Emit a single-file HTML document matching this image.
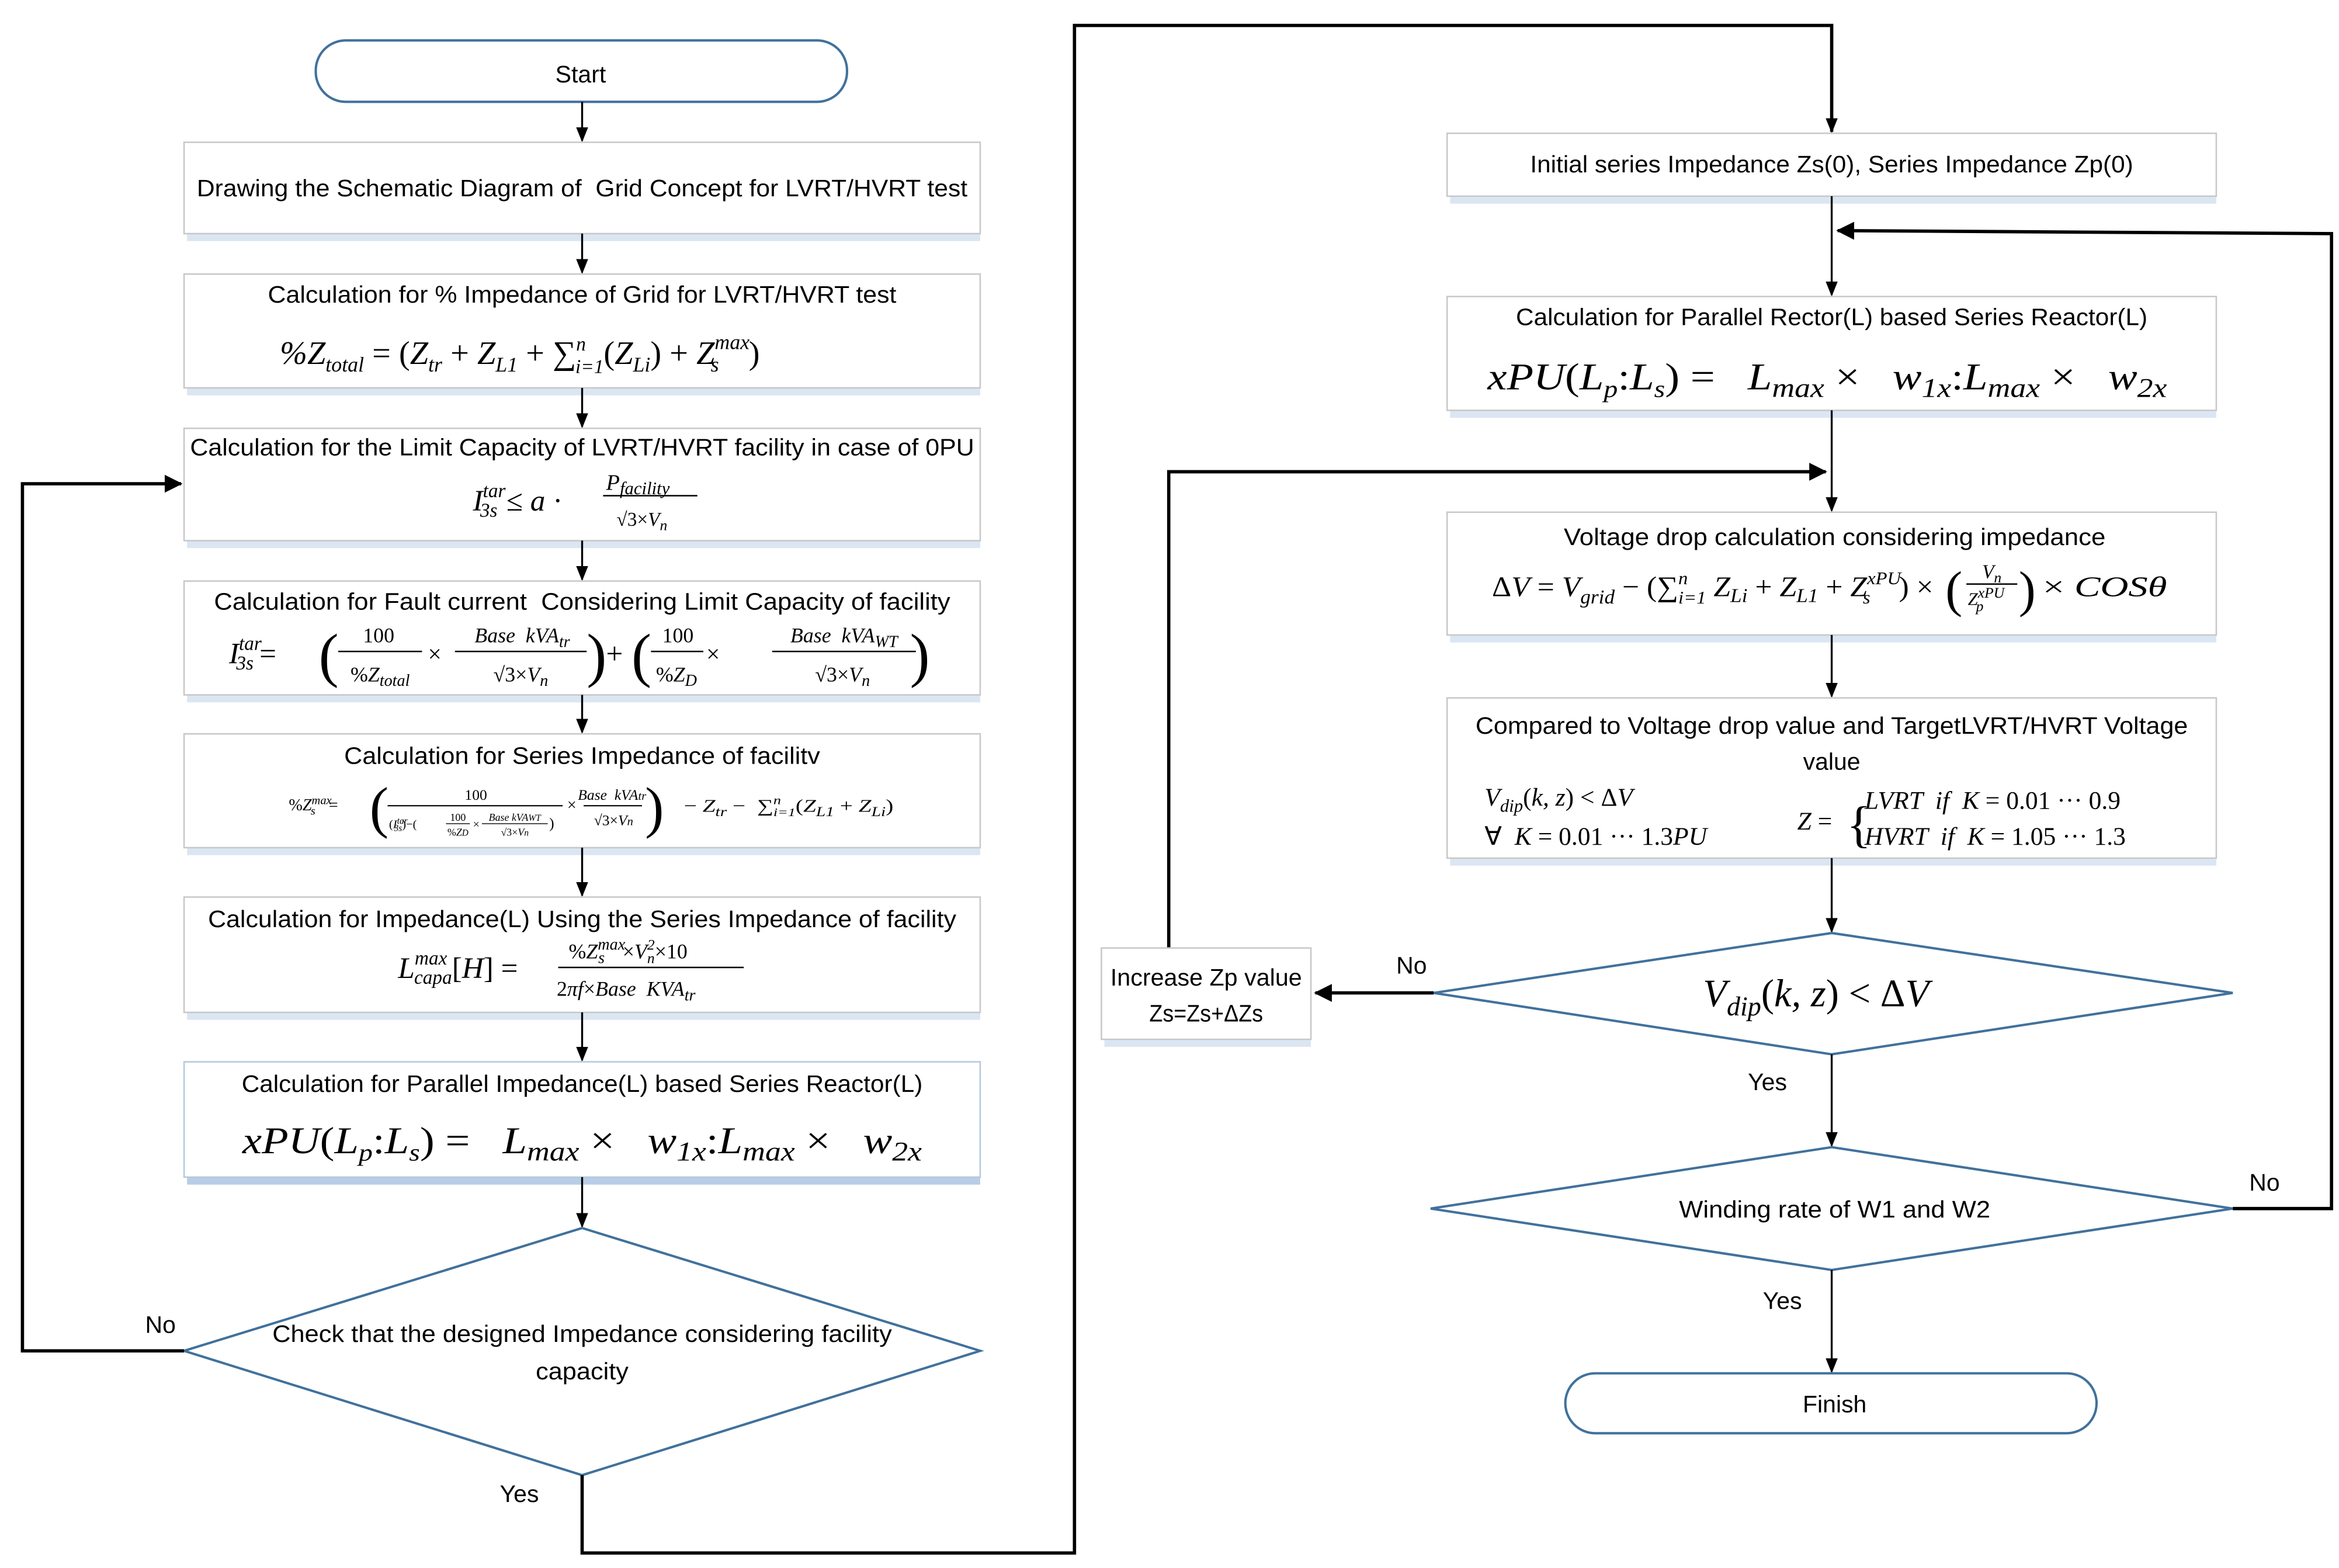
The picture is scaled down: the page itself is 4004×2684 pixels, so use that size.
<!DOCTYPE html>
<html><head><meta charset="utf-8"><style>
html,body{margin:0;padding:0;background:#fff}
svg{display:block}
text{white-space:pre}
.t{font-family:"Liberation Sans",sans-serif;font-size:16px;fill:#000}
.m{font-family:"Liberation Serif",serif;font-style:italic;fill:#000}
.n{font-style:normal}
.box{fill:#fff;stroke:#c8c8c8;stroke-width:1}
.ln{stroke:#000;stroke-width:1.3;fill:none}
.lnb{stroke:#000;stroke-width:2.2;fill:none}
.dia{fill:#fff;stroke:#41719c;stroke-width:1.6}
.sh{fill:#dbe6f3}
</style></head><body>
<svg width="4004" height="2684" viewBox="0 0 1563 1047" preserveAspectRatio="none" xmlns="http://www.w3.org/2000/svg">
<defs>
<marker id="a" markerWidth="10" markerHeight="20" refX="9" refY="5" orient="auto" markerUnits="userSpaceOnUse" viewBox="0 0 10 10"><path d="M0,1 L10,5 L0,9 z" fill="#000"/></marker>
<marker id="ab" markerWidth="12" markerHeight="12" refX="11" refY="6" orient="auto" markerUnits="userSpaceOnUse"><path d="M0,0 L12,6 L0,12 z" fill="#000"/></marker>
</defs>

<rect x="211" y="27" width="355" height="41" rx="20" fill="#fff" stroke="#41719c" stroke-width="1.6"/>
<text x="388" y="55" class="t" font-size="20" text-anchor="middle">Start</text>
<line class="ln" x1="389" y1="68" x2="389" y2="94" marker-end="url(#a)"/>

<rect class="sh" x="125" y="156" width="530" height="5"/>
<rect class="sh" x="125" y="259" width="530" height="5"/>
<rect class="sh" x="125" y="361" width="530" height="5"/>
<rect class="sh" x="125" y="464" width="530" height="5"/>
<rect class="sh" x="125" y="566" width="530" height="5"/>
<rect class="sh" x="125" y="676" width="530" height="5"/>
<rect x="125" y="786" width="530" height="5" fill="#b8cde6"/>

<rect class="box" x="123" y="95" width="532" height="61"/>
<text x="389" y="131" class="t" text-anchor="middle" textLength="515" lengthAdjust="spacingAndGlyphs">Drawing the Schematic Diagram of  Grid Concept for LVRT/HVRT test</text>
<line class="ln" x1="389" y1="156" x2="389" y2="182" marker-end="url(#a)"/>

<rect class="box" x="123" y="183" width="532" height="76"/>
<text x="389" y="202" class="t" text-anchor="middle" textLength="420" lengthAdjust="spacingAndGlyphs">Calculation for % Impedance of Grid for LVRT/HVRT test</text>
<text x="187" y="243" class="m" font-size="22">%Z<tspan font-size="14" dy="5">total</tspan><tspan dy="-5" class="n"> = (</tspan>Z<tspan font-size="14" dy="5">tr</tspan><tspan dy="-5" class="n"> + </tspan>Z<tspan font-size="14" dy="5">L1</tspan><tspan dy="-5" class="n"> + ∑</tspan><tspan font-size="13" dy="-9">n</tspan><tspan font-size="13" dx="-7" dy="15">i=1</tspan><tspan dy="-6" class="n">(</tspan>Z<tspan font-size="14" dy="5">Li</tspan><tspan dy="-5" class="n">) + </tspan>Z<tspan font-size="14" dy="-10">max</tspan><tspan font-size="14" dx="-26" dy="15">s</tspan><tspan dx="20" dy="-5" class="n">)</tspan></text>
<line class="ln" x1="389" y1="259" x2="389" y2="285" marker-end="url(#a)"/>

<rect class="box" x="123" y="286" width="532" height="75"/>
<text x="389" y="304" class="t" text-anchor="middle" textLength="524" lengthAdjust="spacingAndGlyphs">Calculation for the Limit Capacity of LVRT/HVRT facility in case of 0PU</text>
<text x="316" y="341" class="m" font-size="20">I<tspan font-size="13" dy="-9">tar</tspan><tspan font-size="13" dx="-17" dy="13">3s</tspan><tspan dy="-4" dx="6" class="n">≤ </tspan>a<tspan class="n"> · </tspan></text>
<text x="405" y="327" class="m" font-size="15">P<tspan font-size="12" dy="3">facility</tspan></text>
<line x1="403" y1="331" x2="466" y2="331" stroke="#000" stroke-width="1"/>
<text x="412" y="351" class="m" font-size="13"><tspan class="n">√3×</tspan>V<tspan font-size="10" dy="3">n</tspan></text>
<line class="ln" x1="389" y1="361" x2="389" y2="387" marker-end="url(#a)"/>

<rect class="box" x="123" y="388" width="532" height="76"/>
<text x="389" y="407" class="t" text-anchor="middle" textLength="492" lengthAdjust="spacingAndGlyphs">Calculation for Fault current  Considering Limit Capacity of facility</text>
<text x="153" y="443" class="m" font-size="20">I<tspan font-size="13" dy="-9">tar</tspan><tspan font-size="13" dx="-17" dy="13">3s</tspan><tspan dy="-4" dx="4" class="n">= </tspan></text>
<text x="213" y="451" font-family="Liberation Serif" font-size="40">(</text>
<text x="253" y="429" class="m n" font-size="14" text-anchor="middle" font-style="normal">100</text>
<line x1="226" y1="435" x2="282" y2="435" stroke="#000"/>
<text x="254" y="455" class="m" font-size="14" text-anchor="middle"><tspan class="n">%</tspan>Z<tspan font-size="11" dy="3">total</tspan></text>
<text x="286" y="442" class="m n" font-size="16" font-style="normal">×</text>
<text x="349" y="429" class="m" font-size="14" text-anchor="middle">Base  kVA<tspan font-size="11" dy="3">tr</tspan></text>
<line x1="304" y1="435" x2="392" y2="435" stroke="#000"/>
<text x="348" y="455" class="m" font-size="14" text-anchor="middle"><tspan class="n">√3×</tspan>V<tspan font-size="11" dy="3">n</tspan></text>
<text x="392" y="451" font-family="Liberation Serif" font-size="40">)</text>
<text x="405" y="443" font-family="Liberation Serif" font-size="20">+</text>
<text x="422" y="451" font-family="Liberation Serif" font-size="40">(</text>
<text x="453" y="429" class="m n" font-size="14" text-anchor="middle" font-style="normal">100</text>
<line x1="435" y1="435" x2="470" y2="435" stroke="#000"/>
<text x="452" y="455" class="m" font-size="14" text-anchor="middle"><tspan class="n">%</tspan>Z<tspan font-size="11" dy="3">D</tspan></text>
<text x="472" y="442" font-family="Liberation Serif" font-size="16">×</text>
<text x="564" y="429" class="m" font-size="14" text-anchor="middle">Base  kVA<tspan font-size="11" dy="3">WT</tspan></text>
<line x1="516" y1="435" x2="612" y2="435" stroke="#000"/>
<text x="563" y="455" class="m" font-size="14" text-anchor="middle"><tspan class="n">√3×</tspan>V<tspan font-size="11" dy="3">n</tspan></text>
<text x="608" y="451" font-family="Liberation Serif" font-size="40">)</text>
<line class="ln" x1="389" y1="464" x2="389" y2="489" marker-end="url(#a)"/>

<rect class="box" x="123" y="490" width="532" height="76"/>
<text x="389" y="510" class="t" text-anchor="middle" textLength="318" lengthAdjust="spacingAndGlyphs">Calculation for Series Impedance of facilitv</text>
<text x="193" y="541" class="m" font-size="11"><tspan class="n">%</tspan>Z<tspan font-size="8" dy="-4">max</tspan><tspan font-size="8" dx="-14" dy="7">s</tspan><tspan dx="9" dy="-3" class="n">=</tspan></text>
<text x="247" y="552" font-family="Liberation Serif" font-size="38">(</text>
<text x="318" y="534" font-family="Liberation Serif" font-size="10" text-anchor="middle">100</text>
<line x1="259" y1="538" x2="376" y2="538" stroke="#000" stroke-width="0.8"/>
<text x="260" y="553" class="m" font-size="8"><tspan class="n">(</tspan>I<tspan font-size="6" dy="-3">tar</tspan><tspan font-size="6" dx="-9" dy="5">3s</tspan><tspan class="n" dy="-2">)−(</tspan></text>
<text x="306" y="548" font-family="Liberation Serif" font-size="7" text-anchor="middle">100</text>
<line x1="298" y1="550" x2="314" y2="550" stroke="#000" stroke-width="0.5"/>
<text x="306" y="558" class="m" font-size="7" text-anchor="middle"><tspan class="n">%</tspan>Z<tspan font-size="6">D</tspan></text>
<text x="316" y="553" font-family="Liberation Serif" font-size="8">×</text>
<text x="344" y="548" class="m" font-size="7" text-anchor="middle">Base kVA<tspan font-size="6">WT</tspan></text>
<line x1="322" y1="550" x2="366" y2="550" stroke="#000" stroke-width="0.5"/>
<text x="344" y="558" class="m" font-size="7" text-anchor="middle"><tspan class="n">√3×</tspan>V<tspan font-size="6">n</tspan></text>
<text x="367" y="553" font-family="Liberation Serif" font-size="10">)</text>
<text x="379" y="541" font-family="Liberation Serif" font-size="11">×</text>
<text x="409" y="534" class="m" font-size="10" text-anchor="middle">Base  kVA<tspan font-size="8">tr</tspan></text>
<line x1="390" y1="538" x2="429" y2="538" stroke="#000" stroke-width="0.8"/>
<text x="410" y="551" class="m" font-size="10" text-anchor="middle"><tspan class="n">√3×</tspan>V<tspan font-size="8">n</tspan></text>
<text x="431" y="552" font-family="Liberation Serif" font-size="38">)</text>
<text x="457" y="542" class="m" font-size="12" textLength="140" lengthAdjust="spacingAndGlyphs"><tspan class="n">− </tspan>Z<tspan font-size="9" dy="3">tr</tspan><tspan class="n" dy="-3"> −  ∑</tspan><tspan font-size="8" dy="-5">n</tspan><tspan font-size="8" dx="-4" dy="8">i=1</tspan><tspan class="n" dy="-3">(</tspan>Z<tspan font-size="9" dy="3">L1</tspan><tspan class="n" dy="-3"> + </tspan>Z<tspan font-size="9" dy="3">Li</tspan><tspan class="n" dy="-3">)</tspan></text>
<line class="ln" x1="389" y1="566" x2="389" y2="598" marker-end="url(#a)"/>

<rect class="box" x="123" y="599" width="532" height="77"/>
<text x="389" y="619" class="t" text-anchor="middle" textLength="500" lengthAdjust="spacingAndGlyphs">Calculation for Impedance(L) Using the Series Impedance of facility</text>
<text x="266" y="653" class="m" font-size="20">L<tspan font-size="13" dy="-9">max</tspan><tspan font-size="13" dx="-22" dy="13">capa</tspan><tspan class="n" dy="-4">[</tspan>H<tspan class="n">] = </tspan></text>
<text x="380" y="640" class="m" font-size="14"><tspan class="n">%</tspan>Z<tspan font-size="11" dy="-6">max</tspan><tspan font-size="11" dx="-18" dy="9">s</tspan><tspan class="n" dx="12" dy="-3">×</tspan>V<tspan font-size="10" dy="-6">2</tspan><tspan font-size="10" dx="-5" dy="9">n</tspan><tspan class="n" dy="-3">×10</tspan></text>
<line x1="373" y1="646" x2="497" y2="646" stroke="#000" stroke-width="1"/>
<text x="372" y="665" class="m" font-size="14"><tspan class="n">2</tspan>πf<tspan class="n">×</tspan>Base  KVA<tspan font-size="11" dy="3">tr</tspan></text>
<line class="ln" x1="389" y1="676" x2="389" y2="708" marker-end="url(#a)"/>

<rect x="123" y="709" width="532" height="77" fill="#fff" stroke="#b7c9de"/>
<text x="389" y="729" class="t" text-anchor="middle" textLength="455" lengthAdjust="spacingAndGlyphs">Calculation for Parallel Impedance(L) based Series Reactor(L)</text>
<text x="162" y="770" class="m" font-size="25" textLength="454" lengthAdjust="spacingAndGlyphs">xPU<tspan class="n">(</tspan>L<tspan font-size="16" dy="5">p</tspan><tspan class="n" dy="-5">:</tspan>L<tspan font-size="16" dy="5">s</tspan><tspan class="n" dy="-5">) =   </tspan>L<tspan font-size="18" dy="5">max</tspan><tspan class="n" dy="-5"> ×   </tspan>w<tspan font-size="18" dy="5">1x</tspan><tspan class="n" dy="-5">:</tspan>L<tspan font-size="18" dy="5">max</tspan><tspan class="n" dy="-5"> ×   </tspan>w<tspan font-size="18" dy="5">2x</tspan></text>
<line class="ln" x1="389" y1="786" x2="389" y2="819" marker-end="url(#a)"/>

<polygon class="dia" points="389,820 655,902 389,985 123,902"/>
<text x="389" y="896" class="t" text-anchor="middle" textLength="414" lengthAdjust="spacingAndGlyphs">Check that the designed Impedance considering facility</text>
<text x="389" y="921" class="t" text-anchor="middle" textLength="62" lengthAdjust="spacingAndGlyphs">capacity</text>
<polyline class="lnb" points="123,902 15,902 15,323 121,323" marker-end="url(#ab)"/>
<text x="97" y="890" class="t">No</text>
<text x="334" y="1003" class="t">Yes</text>
<polyline class="lnb" points="389,985 389,1037 718,1037 718,17 1224,17 1224,88" marker-end="url(#a)"/>

<rect class="sh" x="969" y="131" width="512" height="5"/>
<rect class="sh" x="969" y="274" width="512" height="5"/>
<rect class="sh" x="969" y="424" width="512" height="5"/>
<rect class="sh" x="969" y="573" width="512" height="5"/>
<rect class="sh" x="738" y="694" width="138" height="5"/>

<rect class="box" x="967" y="89" width="514" height="42"/>
<text x="1224" y="115" class="t" text-anchor="middle" textLength="403" lengthAdjust="spacingAndGlyphs">Initial series Impedance Zs(0), Series Impedance Zp(0)</text>
<line class="ln" x1="1224" y1="131" x2="1224" y2="197" marker-end="url(#a)"/>
<polyline class="lnb" points="1492,807 1558,807 1558,156 1228,154" marker-end="url(#ab)"/>
<text x="1503" y="795" class="t">No</text>

<rect class="box" x="967" y="198" width="514" height="76"/>
<text x="1224" y="217" class="t" text-anchor="middle" textLength="422" lengthAdjust="spacingAndGlyphs">Calculation for Parallel Rector(L) based Series Reactor(L)</text>
<text x="994" y="260" class="m" font-size="25" textLength="454" lengthAdjust="spacingAndGlyphs">xPU<tspan class="n">(</tspan>L<tspan font-size="16" dy="5">p</tspan><tspan class="n" dy="-5">:</tspan>L<tspan font-size="16" dy="5">s</tspan><tspan class="n" dy="-5">) =   </tspan>L<tspan font-size="18" dy="5">max</tspan><tspan class="n" dy="-5"> ×   </tspan>w<tspan font-size="18" dy="5">1x</tspan><tspan class="n" dy="-5">:</tspan>L<tspan font-size="18" dy="5">max</tspan><tspan class="n" dy="-5"> ×   </tspan>w<tspan font-size="18" dy="5">2x</tspan></text>
<line class="ln" x1="1224" y1="274" x2="1224" y2="341" marker-end="url(#a)"/>
<polyline class="lnb" points="781,633 781,315 1220,315" marker-end="url(#ab)"/>

<rect class="box" x="967" y="342" width="514" height="82"/>
<text x="1226" y="364" class="t" text-anchor="middle" textLength="362" lengthAdjust="spacingAndGlyphs">Voltage drop calculation considering impedance</text>
<text x="997" y="398" class="m" font-size="19" textLength="300" lengthAdjust="spacingAndGlyphs"><tspan class="n">Δ</tspan>V<tspan class="n"> = </tspan>V<tspan font-size="13" dy="5">grid</tspan><tspan class="n" dy="-5"> − (∑</tspan><tspan font-size="12" dy="-8">n</tspan><tspan font-size="12" dx="-6" dy="13">i=1</tspan><tspan dy="-5"> Z</tspan><tspan font-size="13" dy="4">Li</tspan><tspan class="n" dy="-4"> + </tspan>Z<tspan font-size="13" dy="4">L1</tspan><tspan class="n" dy="-4"> + </tspan>Z<tspan font-size="12" dy="-8">xPU</tspan><tspan font-size="12" dx="-24" dy="13">s</tspan><tspan class="n" dx="18" dy="-5">) × </tspan></text>
<text x="1300" y="405" font-family="Liberation Serif" font-size="34">(</text>
<text x="1331" y="386" class="m" font-size="13" text-anchor="middle">V<tspan font-size="10" dy="3">n</tspan></text>
<line x1="1314" y1="390" x2="1348" y2="390" stroke="#000"/>
<text x="1315" y="404" class="m" font-size="12">Z<tspan font-size="10" dy="-5">xPU</tspan><tspan font-size="10" dx="-19" dy="9">p</tspan></text>
<text x="1349" y="405" font-family="Liberation Serif" font-size="34">)</text>
<text x="1365" y="398" class="m" font-size="19" textLength="83" lengthAdjust="spacingAndGlyphs"><tspan class="n">× </tspan>COSθ</text>
<line class="ln" x1="1224" y1="424" x2="1224" y2="465" marker-end="url(#a)"/>

<rect class="box" x="967" y="466" width="514" height="107"/>
<text x="1224" y="490" class="t" text-anchor="middle" textLength="476" lengthAdjust="spacingAndGlyphs">Compared to Voltage drop value and TargetLVRT/HVRT Voltage</text>
<text x="1224" y="514" class="t" text-anchor="middle">value</text>
<text x="992" y="538" class="m" font-size="17">V<tspan font-size="12" dy="4">dip</tspan><tspan class="n" dy="-4">(</tspan>k, z<tspan class="n">) &lt; Δ</tspan>V</text>
<text x="992" y="564" class="m" font-size="17"><tspan class="n">∀  </tspan>K<tspan class="n"> = 0.01 ··· 1.3</tspan>PU</text>
<text x="1201" y="554" class="m" font-size="17">Z<tspan class="n"> =</tspan></text>
<text x="1234" y="562" font-family="Liberation Serif" font-size="34">{</text>
<text x="1246" y="540" class="m" font-size="17">LVRT  if  K<tspan class="n"> = 0.01 ··· 0.9</tspan></text>
<text x="1246" y="564" class="m" font-size="17">HVRT  if  K<tspan class="n"> = 1.05 ··· 1.3</tspan></text>
<line class="ln" x1="1224" y1="573" x2="1224" y2="622" marker-end="url(#a)"/>

<polygon class="dia" points="1224,623 1492,663 1224,704 958,663"/>
<text x="1138" y="672" class="m" font-size="26">V<tspan font-size="18" dy="6">dip</tspan><tspan class="n" dy="-6">(</tspan>k, z<tspan class="n">) &lt; Δ</tspan>V</text>
<line class="lnb" x1="958" y1="663" x2="879" y2="663" marker-end="url(#ab)"/>
<text x="933" y="650" class="t">No</text>

<rect class="box" x="736" y="633" width="140" height="61"/>
<text x="806" y="658" class="t" text-anchor="middle" textLength="128" lengthAdjust="spacingAndGlyphs">Increase Zp value</text>
<text x="806" y="682" class="t" text-anchor="middle" textLength="76" lengthAdjust="spacingAndGlyphs">Zs=Zs+ΔZs</text>

<line class="ln" x1="1224" y1="704" x2="1224" y2="765" marker-end="url(#a)"/>
<text x="1168" y="728" class="t">Yes</text>

<polygon class="dia" points="1224,766 1492,807 1224,848 956,807"/>
<text x="1226" y="813" class="t" text-anchor="middle" textLength="208" lengthAdjust="spacingAndGlyphs">Winding rate of W1 and W2</text>
<line class="ln" x1="1224" y1="848" x2="1224" y2="916" marker-end="url(#a)"/>
<text x="1178" y="874" class="t">Yes</text>

<rect x="1046" y="917" width="355" height="40" rx="20" fill="#fff" stroke="#41719c" stroke-width="1.6"/>
<text x="1226" y="943" class="t" text-anchor="middle">Finish</text>
</svg>
</body></html>
